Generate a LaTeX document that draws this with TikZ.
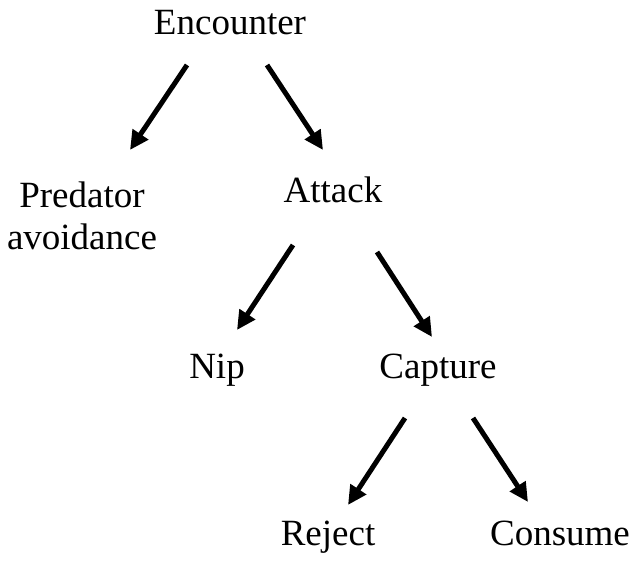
\documentclass[tikz,border=0pt]{standalone}
\usepackage{fontspec}
\setmainfont{Liberation Serif}
\usetikzlibrary{arrows.meta}
\begin{document}
\begin{tikzpicture}[x=1pt,y=1pt,
  lbl/.style={inner sep=0pt, font=\fontsize{37}{42}\selectfont, anchor=base},
  arr/.style={line width=5pt, -{Triangle[length=19pt,width=18pt]}}]
\useasboundingbox (0,0) rectangle (634,566);
\node[lbl] (enc) at (230,531) {Encounter};
\node[lbl, anchor=north, align=center] (pred) at (82,384) {Predator\\avoidance};
\node[lbl] (att) at (333,364) {Attack};
\node[lbl] (nip) at (217,188) {Nip};
\node[lbl] (cap) at (438,188) {Capture};
\node[lbl] (rej) at (328,21) {Reject};
\node[lbl] (con) at (560,21) {Consume};
\draw[arr] ([shift={(-43,-30)}]enc.base) -- ([shift={(48,32)}]pred.north);
\draw[arr] ([shift={(37,-30)}]enc.base) -- ([shift={(-10,52)}]att.base);
\draw[arr] ([shift={(-40,-43)}]att.base) -- ([shift={(20,48)}]nip.base);
\draw[arr] ([shift={(44,-50)}]att.base) -- ([shift={(-6,41)}]cap.base);
\draw[arr] ([shift={(-33,-40)}]cap.base) -- ([shift={(20,40)}]rej.base);
\draw[arr] ([shift={(35,-40)}]cap.base) -- ([shift={(-32,43)}]con.base);
\end{tikzpicture}
\end{document}
